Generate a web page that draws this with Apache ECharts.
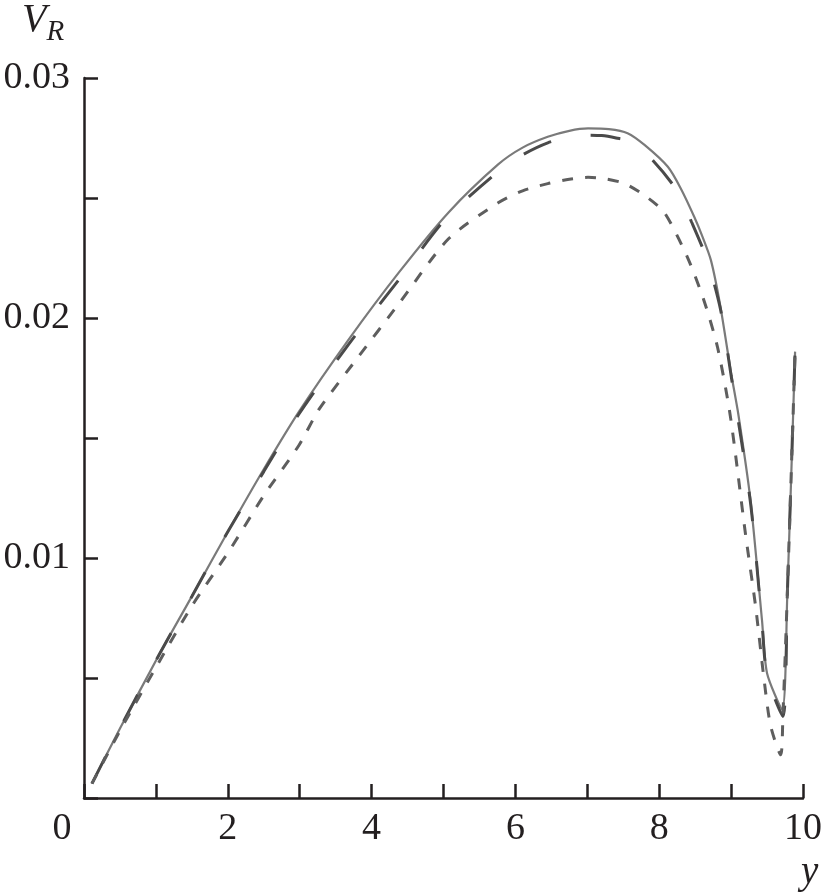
<!DOCTYPE html>
<html>
<head>
<meta charset="utf-8">
<script src="https://cdn.jsdelivr.net/npm/echarts@6/dist/echarts.min.js"></script>
<style>html,body{margin:0;padding:0;background:#fff}#c{width:825px;height:895px}</style>
</head>
<body>
<div id="c"></div>
<script>
// ---- data ----
const xSolid = [0.11, 0.5, 1.05, 1.5, 2.02, 2.5, 2.99, 3.68, 4.38, 5.07, 5.76, 6.1, 6.45, 6.75, 7.01, 7.3, 7.56, 7.8, 8.12, 8.3, 8.49, 8.6, 8.72, 8.85, 9.0, 9.1, 9.27, 9.43, 9.5, 9.71, 9.78, 9.89];
const vSolid = [0.0006, 0.0029, 0.0060, 0.0084, 0.0112, 0.0137, 0.0161, 0.0191, 0.0219, 0.0244, 0.0264, 0.0271, 0.02755, 0.0278, 0.0279, 0.02787, 0.0277, 0.0272, 0.0263, 0.0254, 0.0242, 0.0234, 0.0224, 0.0205, 0.0177, 0.0160, 0.0124, 0.0074, 0.0052, 0.0037, 0.0083, 0.0186];

const xLong = [0.11, 0.5, 1.05, 1.5, 2.02, 2.5, 2.99, 3.68, 4.38, 5.02, 5.76, 6.1, 6.45, 6.77, 7.0, 7.2, 7.4, 7.61, 7.9, 8.25, 8.45, 8.67, 8.85, 9.0, 9.27, 9.43, 9.5, 9.72, 9.78, 9.89];
const vLong = [0.0006, 0.0029, 0.0060, 0.0084, 0.0112, 0.0136, 0.0160, 0.0189, 0.0216, 0.0241, 0.0261, 0.0268, 0.0273, 0.02755, 0.02762, 0.0276, 0.0275, 0.02735, 0.0266, 0.0253, 0.0240, 0.0224, 0.0204, 0.0176, 0.0123, 0.0073, 0.0051, 0.0034, 0.0083, 0.0186];

const xShort = [0.11, 0.5, 1.05, 1.5, 2.02, 2.5, 2.99, 3.27, 3.82, 4.38, 5.07, 5.76, 6.1, 6.45, 6.75, 7.01, 7.25, 7.52, 7.8, 8.07, 8.39, 8.62, 8.81, 8.99, 9.2, 9.34, 9.46, 9.55, 9.69, 9.72, 9.78, 9.89];
const vShort = [0.0006, 0.0028, 0.0057, 0.0080, 0.0103, 0.0126, 0.0147, 0.0162, 0.0184, 0.0206, 0.0233, 0.0248, 0.0253, 0.0256, 0.02578, 0.02586, 0.0258, 0.0256, 0.0251, 0.0244, 0.02255, 0.02075, 0.0188, 0.0159, 0.0110, 0.0080, 0.0049, 0.0030, 0.0018, 0.0034, 0.0083, 0.0186];

const xTickLabels = [0, 2, 4, 6, 8, 10];
const yTickLabels = [0.01, 0.02, 0.03];

const pairs = (xs, vs) => xs.map((x, i) => [x, vs[i]]);
const serif = '"Liberation Serif", "DejaVu Serif", serif';

const chart = echarts.init(document.getElementById('c'), null, {renderer: 'canvas'});
chart.setOption({
  animation: false,
  backgroundColor: '#fff',
  grid: {left: 84, top: 78, width: 722, height: 720, containLabel: false},
  xAxis: {
    type: 'value', min: 0, max: 10, interval: 1,
    axisLine: {lineStyle: {color: '#231f20', width: 2.5}},
    axisTick: {inside: true, length: 14, lineStyle: {color: '#231f20', width: 2.5}},
    splitLine: {show: false},
    axisLabel: {
      margin: 12,
      color: '#231f20', fontFamily: serif, fontSize: 38,
      formatter: v => xTickLabels.indexOf(v) < 0 ? '' : (v === 0 ? '{z|0}' : String(v)),
      rich: {z: {fontFamily: serif, fontSize: 38, color: '#231f20', padding: [0, 44, 0, 0]}}
    }
  },
  yAxis: {
    type: 'value', min: 0, max: 0.03, interval: 0.005,
    axisLine: {lineStyle: {color: '#231f20', width: 2.5}},
    axisTick: {inside: true, length: 14, lineStyle: {color: '#231f20', width: 2.5}},
    splitLine: {show: false},
    axisLabel: {
      margin: 14,
      color: '#231f20', fontFamily: serif, fontSize: 38,
      formatter: v => {
        const m = yTickLabels.find(t => Math.abs(t - v) < 1e-9);
        return m === undefined ? '' : m.toFixed(2);
      }
    }
  },
  graphic: [
    {type: 'text', left: 22, top: 0, style: {
      text: '{v|V}{r|R}',
      rich: {
        v: {fontFamily: serif, fontStyle: 'italic', fontSize: 40, fill: '#231f20'},
        r: {fontFamily: serif, fontStyle: 'italic', fontSize: 29, fill: '#231f20', padding: [24, 0, 0, 0]}
      }
    }},
    {type: 'text', left: 801, top: 853, style: {
      text: 'y', fontFamily: serif, fontStyle: 'italic', fontSize: 39, fill: '#231f20'
    }}
  ],
  series: [
    {type: 'line', data: pairs(xSolid, vSolid), showSymbol: false, smooth: 0.25,
     lineStyle: {color: '#7a7a7a', width: 2.2, type: 'solid'}, z: 2},
    {type: 'line', data: pairs(xLong, vLong), showSymbol: false, smooth: 0.25,
     lineStyle: {color: '#4a4a4a', width: 3, type: [30, 40]}, z: 3},
    {type: 'line', data: pairs(xShort, vShort), showSymbol: false, smooth: 0.25,
     lineStyle: {color: '#5e5e5e', width: 3, type: [11, 12]}, z: 3}
  ]
});
</script>
</body>
</html>
